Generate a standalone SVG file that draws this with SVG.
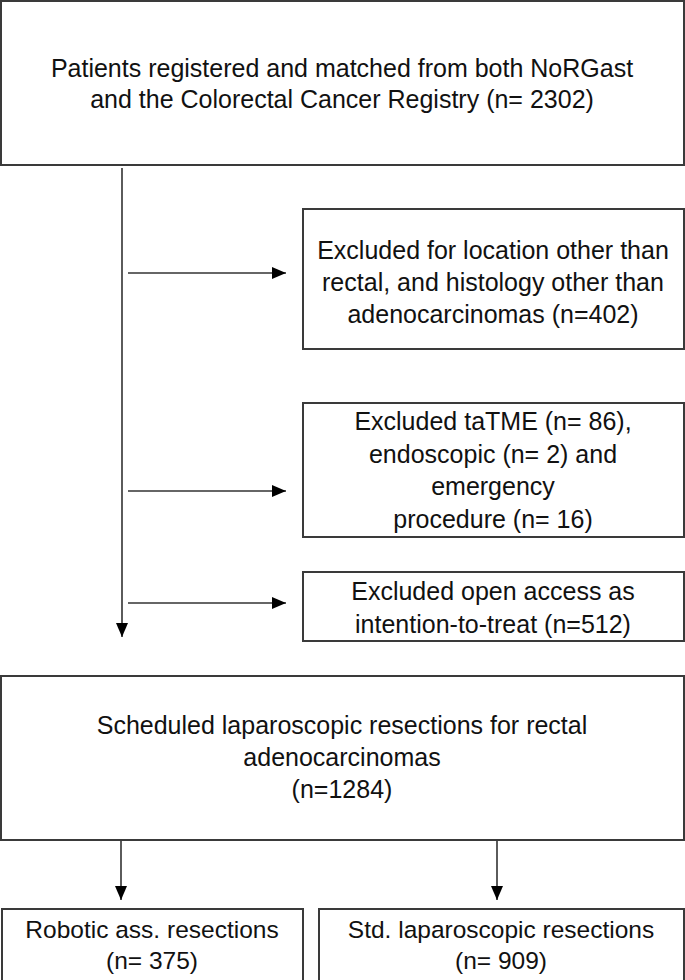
<svg xmlns="http://www.w3.org/2000/svg" width="685" height="980" viewBox="0 0 685 980">
<style>
.box{fill:#fff;stroke:#3a3a3a;stroke-width:2}
.t{font-family:"Liberation Sans",Arial,sans-serif;font-size:25px;fill:#111;text-anchor:middle}
.s{font-size:24.5px}
.c{stroke:#333;stroke-width:1.6;fill:none}
</style>
<defs>
<marker id="ah" markerUnits="userSpaceOnUse" markerWidth="15" markerHeight="15" viewBox="0 0 15 15" refX="14" refY="7.5" orient="auto">
<path d="M0,1.5 L14,7.5 L0,13.5 Z" fill="#000"/>
</marker>
</defs>
<rect width="685" height="980" fill="#fff"/>
<g id="connectors">
<line class="c" x1="122" y1="168" x2="122" y2="637" marker-end="url(#ah)"/>
<line class="c" x1="128" y1="273" x2="286" y2="273" marker-end="url(#ah)"/>
<line class="c" x1="128" y1="491" x2="286" y2="491" marker-end="url(#ah)"/>
<line class="c" x1="128" y1="603" x2="286" y2="603" marker-end="url(#ah)"/>
<line class="c" x1="121" y1="841" x2="121" y2="900" marker-end="url(#ah)"/>
<line class="c" x1="497" y1="841" x2="497" y2="900" marker-end="url(#ah)"/>
</g>
<g id="n-registered">
<rect class="box" x="1" y="1" width="683" height="164"/>
<text class="t" x="342" y="77">Patients registered and matched from both NoRGast</text>
<text class="t" x="342" y="108">and the Colorectal Cancer Registry (n= 2302)</text>
</g>
<g id="n-excl-location">
<rect class="box" x="303" y="209" width="381" height="140"/>
<text class="t" x="493" y="259">Excluded for location other than</text>
<text class="t" x="493" y="291">rectal, and histology other than</text>
<text class="t" x="493" y="323">adenocarcinomas (n=402)</text>
</g>
<g id="n-excl-tatme">
<rect class="box" x="303" y="403" width="381" height="134"/>
<text class="t" x="493" y="430">Excluded taTME (n= 86),</text>
<text class="t" x="493" y="463">endoscopic (n= 2) and</text>
<text class="t" x="493" y="495">emergency</text>
<text class="t" x="493" y="528">procedure (n= 16)</text>
</g>
<g id="n-excl-open">
<rect class="box" x="303" y="572" width="381" height="69"/>
<text class="t" x="493" y="600">Excluded open access as</text>
<text class="t" x="493" y="633">intention-to-treat (n=512)</text>
</g>
<g id="n-scheduled">
<rect class="box" x="1" y="676" width="683" height="164"/>
<text class="t" x="342" y="734">Scheduled laparoscopic resections for rectal</text>
<text class="t" x="342" y="766">adenocarcinomas</text>
<text class="t" x="342" y="798">(n=1284)</text>
</g>
<g id="n-robotic">
<rect class="box" x="2" y="909" width="301" height="75"/>
<text class="t s" x="152" y="938">Robotic ass. resections</text>
<text class="t s" x="152" y="969">(n= 375)</text>
</g>
<g id="n-std">
<rect class="box" x="319" y="909" width="365" height="75"/>
<text class="t s" x="501" y="938">Std. laparoscopic resections</text>
<text class="t s" x="501" y="969">(n= 909)</text>
</g>
</svg>
